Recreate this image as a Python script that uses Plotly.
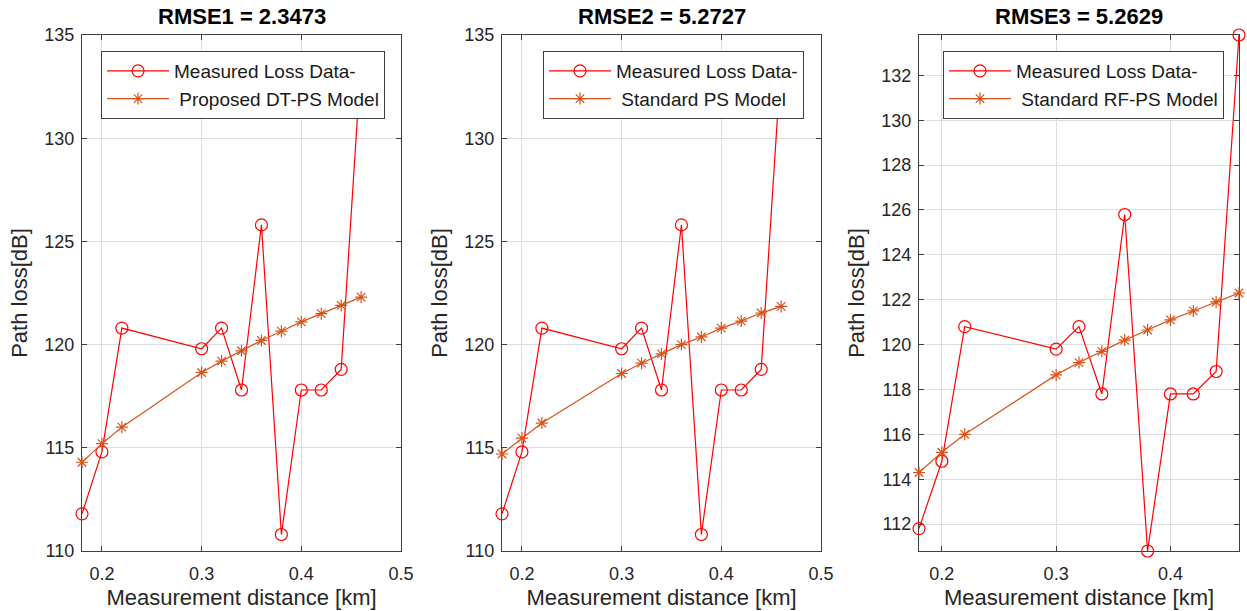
import plotly.graph_objects as go

# Measurement distances [km]
distance_km = [0.18, 0.20, 0.22, 0.30, 0.32, 0.34, 0.36, 0.38, 0.40, 0.42, 0.44, 0.46]

# Measured path loss [dB]
measured_loss = [111.8, 114.8, 120.8, 119.8, 120.8, 117.8, 125.8, 110.8, 117.8, 117.8, 118.8, 133.8]

# Model predictions [dB]
dt_ps_model = [114.3, 115.2, 116.0, 118.65, 119.2, 119.7, 120.2, 120.65, 121.1, 121.5, 121.9, 122.3]
standard_ps_model = [114.7, 115.47, 116.2, 118.6, 119.1, 119.55, 120.0, 120.37, 120.8, 121.14, 121.53, 121.85]
rf_ps_model = [114.3, 115.2, 116.0, 118.65, 119.2, 119.7, 120.2, 120.65, 121.1, 121.5, 121.9, 122.3]

titles = ["RMSE1 = 2.3473", "RMSE2 = 5.2727", "RMSE3 = 5.2629"]
model_names = [" Proposed DT-PS Model", " Standard PS Model", " Standard RF-PS Model"]
models = [dt_ps_model, standard_ps_model, rf_ps_model]

W, H = 1247, 611
FONT = "Liberation Sans, Arial, Helvetica, sans-serif"
RED = "#FF0000"
ORANGE = "#D95319"
AXIS = "#404040"
GRID = "#DEDEDE"

# panel geometry in pixels: (left, right)
panels_px = [(82, 401), (502, 821), (919, 1239)]
top_px, bottom_px = 35, 551
legend_left_px = [101, 543, 943]
legend_top_px = 51

x_ranges = [[0.18, 0.5], [0.18, 0.5], [0.18, 0.46]]
y_ranges = [[110, 135], [110, 135], [110.8, 133.8]]
y_dticks = [5, 5, 2]

fig = go.Figure()
layout = dict(
    width=W, height=H,
    margin=dict(l=0, r=0, t=0, b=0),
    paper_bgcolor="white", plot_bgcolor="white",
    font=dict(family=FONT, color="#262626"),
    annotations=[],
)

for i in range(3):
    sfx = "" if i == 0 else str(i + 1)
    xa, ya = "x" + sfx, "y" + sfx
    leg = "legend" + sfx
    fig.add_trace(go.Scatter(
        x=distance_km, y=measured_loss, xaxis=xa, yaxis=ya, legend=leg,
        mode="lines+markers", name="Measured Loss Data-", cliponaxis=False,
        line=dict(color=RED, width=1.2),
        marker=dict(symbol="circle-open", size=12, color=RED, line=dict(color=RED, width=1.2)),
    ))
    fig.add_trace(go.Scatter(
        x=distance_km, y=models[i], xaxis=xa, yaxis=ya, legend=leg,
        mode="lines+markers", name=model_names[i], cliponaxis=False,
        line=dict(color=ORANGE, width=1.2),
        marker=dict(symbol="asterisk-open", size=10, color=ORANGE, line=dict(color=ORANGE, width=1.2)),
    ))

    l, r = panels_px[i]
    xdom = [l / W, r / W]
    ydom = [1 - bottom_px / H, 1 - top_px / H]
    common = dict(
        showline=True, linecolor=AXIS, linewidth=1.2, mirror="ticks",
        ticks="inside", ticklen=5, tickcolor=AXIS, tickwidth=1,
        showgrid=True, gridcolor=GRID, gridwidth=1, zeroline=False,
        automargin=False, layer="below traces",
        tickfont=dict(size=18, color="#262626", family=FONT),
    )
    layout["xaxis" + sfx] = dict(
        common, domain=xdom, range=x_ranges[i], dtick=0.1, tick0=0,
        ticklabelstandoff=6,
        anchor=ya, title=dict(text="Measurement distance [km]",
                              font=dict(size=22, color="#262626"), standoff=6),
    )
    layout["yaxis" + sfx] = dict(
        common, domain=ydom, range=y_ranges[i], dtick=y_dticks[i], tick0=0,
        ticklabelstandoff=3,
        anchor=xa, title=dict(text="Path loss[dB]",
                              font=dict(size=22, color="#262626"), standoff=10),
    )
    layout[leg] = dict(
        x=legend_left_px[i] / W, y=1 - legend_top_px / H,
        xanchor="left", yanchor="top",
        bgcolor="white", bordercolor="#404040", borderwidth=1,
        font=dict(size=19, color="#1a1a1a", family=FONT),
        itemwidth=62, tracegroupgap=0,
    )
    layout["annotations"].append(dict(
        text="<b>" + titles[i] + "</b>", xref="paper", yref="paper",
        x=(l + r) / 2 / W, y=1 - 16 / H, xanchor="center", yanchor="middle",
        showarrow=False, font=dict(size=22, color="black", family=FONT),
    ))

fig.update_layout(**layout)
fig.write_html("out.html")
